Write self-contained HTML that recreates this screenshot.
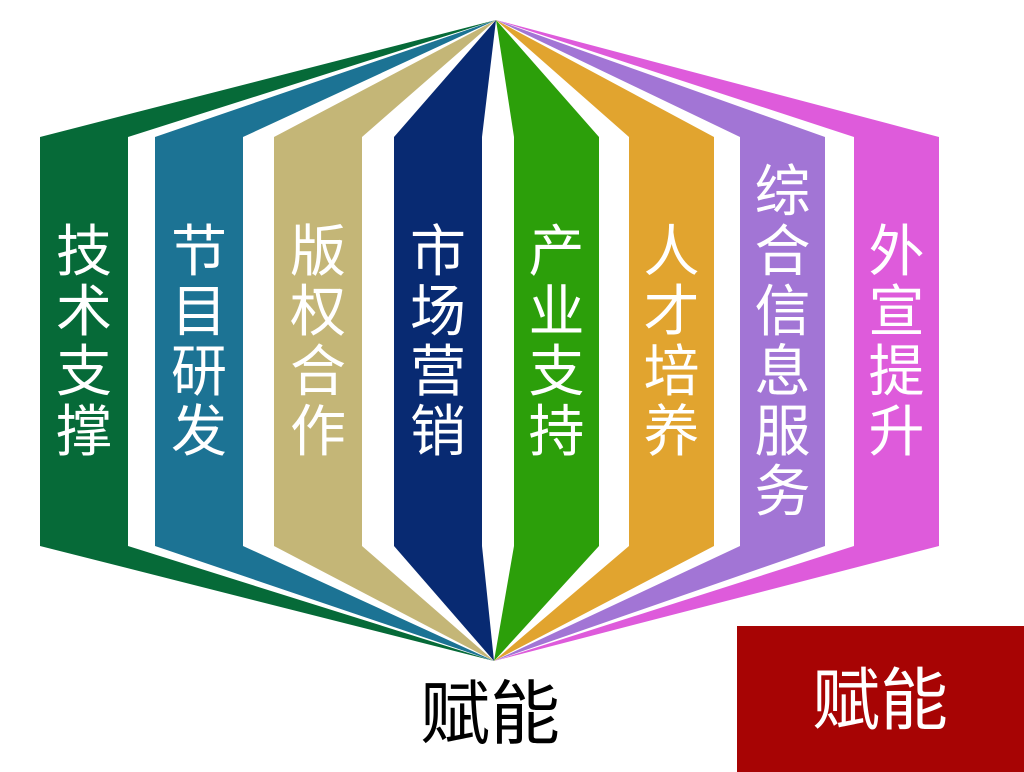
<!DOCTYPE html>
<html><head><meta charset="utf-8"><style>
html,body{margin:0;padding:0;background:#fff;}
svg{display:block;}
text{font-family:"Liberation Sans","Noto Sans CJK SC",sans-serif;}
</style></head><body>
<svg width="1024" height="772" viewBox="0 0 1024 772">
<g id="cols"></g>
<rect x="737" y="626" width="287" height="146" fill="#a70404"/>
<text x="880" y="724" font-size="68" fill="#fff" text-anchor="middle">赋能</text>
<text x="490" y="738" font-size="70" fill="#000" text-anchor="middle">赋能</text>
</svg>
<script>
const labels=["技术支撑","节目研发","版权合作","市场营销","产业支持","人才培养","综合信息服务","外宣提升"];
const colors=["#066a38","#1c7394","#c4b677","#082a72","#2c9f0a","#e1a42f","#a275d5","#de5bdb"];
const lefts=[40,155,274,394,514,629,740,854];
const names=["technology-support","program-rd","copyright-cooperation","marketing","industry-support","talent-training","info-service","publicity"];
const T=137, B=546, AT=[496,20], AB=[494,661];
const g=document.getElementById('cols');
const NS="http://www.w3.org/2000/svg";
labels.forEach((lab,i)=>{
  const W=i<4?88:85;
  const L=lefts[i], R=L+W;
  const p=document.createElementNS(NS,'polygon');
  p.setAttribute('points',`${AT[0]},${AT[1]} ${L},${T} ${L},${B} ${AB[0]},${AB[1]} ${R},${B} ${R},${T}`);
  p.setAttribute('fill',colors[i]);
  
  
  g.appendChild(p);
  const n=lab.length, pitch=60, c0=340-(n-1)*pitch/2;
  for(let k=0;k<n;k++){
    const t=document.createElementNS(NS,'text');
    t.setAttribute('x',L+W/2);
    t.setAttribute('y',c0+k*pitch+21);
    t.setAttribute('font-size','56');
    t.setAttribute('fill','#fff');
    t.setAttribute('text-anchor','middle');
    t.textContent=lab[k];
    
    
    g.appendChild(t);
  }
});
</script>
</body></html>
